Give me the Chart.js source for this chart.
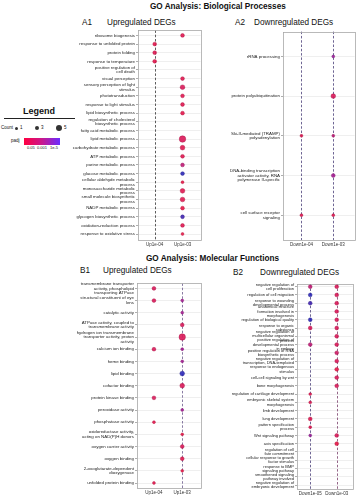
<!DOCTYPE html>
<html><head><meta charset="utf-8">
<script src="https://cdn.jsdelivr.net/npm/chart.js@4.4.1/dist/chart.umd.min.js"></script>
<style>
html,body{margin:0;padding:0;background:#fff;}
body{width:360px;height:500px;position:relative;overflow:hidden;font-family:"Liberation Sans",Arial,sans-serif;color:#111;}
.t{position:absolute;white-space:nowrap;line-height:10px;}
canvas{position:absolute;}
.dot{position:absolute;border-radius:50%;background:#333;}
</style></head><body>
<div class="t" style="left:150px;top:2px;font-size:8.2px;font-weight:bold;">GO Analysis: Biological Processes</div>
<div class="t" style="left:82px;top:18px;font-size:8.2px;">A1</div>
<div class="t" style="left:107px;top:18px;font-size:8.2px;">Upregulated DEGs</div>
<div class="t" style="left:235px;top:18px;font-size:8.2px;">A2</div>
<div class="t" style="left:254px;top:18px;font-size:8.2px;">Downregulated DEGs</div>
<div class="t" style="left:146px;top:254px;font-size:8.2px;font-weight:bold;">GO Analysis: Molecular Functions</div>
<div class="t" style="left:80px;top:266px;font-size:8.2px;">B1</div>
<div class="t" style="left:103px;top:266px;font-size:8.2px;">Upregulated DEGs</div>
<div class="t" style="left:233px;top:268px;font-size:8.2px;">B2</div>
<div class="t" style="left:260px;top:268px;font-size:8.2px;">Downregulated DEGs</div>

<!-- legend -->
<div class="t" style="left:23px;top:106px;font-size:9px;font-weight:bold;">Legend</div>
<div style="position:absolute;left:4px;top:118px;width:71px;border-top:1px solid #222;"></div>
<div class="t" style="left:1px;top:123px;font-size:4.5px;">Count</div>
<div class="dot" style="left:14.5px;top:126.5px;width:3px;height:3px;"></div>
<div class="t" style="left:20px;top:123px;font-size:4.5px;">1</div>
<div class="dot" style="left:34.6px;top:125.6px;width:4.8px;height:4.8px;"></div>
<div class="t" style="left:41px;top:123px;font-size:4.5px;">3</div>
<div class="dot" style="left:55.7px;top:124.7px;width:6.6px;height:6.6px;"></div>
<div class="t" style="left:64px;top:123px;font-size:4.5px;">5</div>
<div class="t" style="left:11px;top:136px;font-size:4.5px;">padj</div>
<div style="position:absolute;left:24px;top:137.5px;width:36px;height:7px;background:linear-gradient(to right,#ff0040,#c8188e,#6a2cff);"></div>
<div class="t" style="left:27px;top:143px;font-size:4px;">0.05</div>
<div class="t" style="left:37px;top:143px;font-size:4px;">0.001</div>
<div class="t" style="left:50px;top:143px;font-size:4px;">1e-5</div>

<canvas id="cA1" width="145" height="226" style="left:60px;top:26px;"></canvas>
<canvas id="cA2" width="154" height="226" style="left:205px;top:26px;"></canvas>
<canvas id="cB1" width="145" height="221" style="left:60px;top:279px;"></canvas>
<canvas id="cB2" width="152" height="221" style="left:205px;top:279px;"></canvas>

<script>
// ---------------- data ----------------
const A1_terms = ["ribosome biogenesis","response to unfolded protein","protein folding","response to temperature",
 "positive regulation of\ncell death","visual perception","sensory perception of light\nstimulus","phototransduction",
 "response to light stimulus","lipid biosynthetic process","regulation of cholesterol\nbiosynthetic process",
 "fatty acid metabolic process","lipid metabolic process","carbohydrate metabolic process","ATP metabolic process",
 "purine metabolic process","glucose metabolic process","cellular aldehyde metabolic\nprocess",
 "monosaccharide metabolic\nprocess","small molecule biosynthetic\nprocess","NADP metabolic process",
 "glycogen biosynthetic process","oxidation-reduction process","response to oxidative stress"];
const A1_cols = ["Up1e-04","Up1e-03"];
const A1_countL = [null,2,2,2,null,null,null,null,null,null,null,null,null,null,null,null,null,null,null,null,null,null,null,null];
const A1_padjL  = [null,0.04,0.03,0.04,null,null,null,null,null,null,null,null,null,null,null,null,null,null,null,null,null,null,null,null];
const A1_countR = [2,null,null,null,null,2,3,2,2,2,null,null,5,3,2,2,2,1,3,3,2,2,2,1];
const A1_padjR  = [0.03,null,null,null,null,0.03,0.02,0.03,0.03,0.04,null,null,0.02,0.03,0.03,0.004,1e-5,0.05,0.03,0.03,0.05,2e-5,0.03,0.05];

const A2_terms = ["rRNA processing","protein polyubiquitination","Ski-II-mediated (TRAMP)\npolyadenylation",
 "DNA-binding transcription\nactivator activity, RNA\npolymerase II-specific","cell surface receptor\nsignaling"];
const A2_cols = ["Down1e-04","Down1e-03"];
const A2_countL = [null,null,1,null,1];
const A2_padjL  = [null,null,0.03,null,0.03];
const A2_countR = [1,3,1,2,1];
const A2_padjR  = [0.0005,0.02,0.004,0.0008,0.03];

const B1_terms = ["transmembrane transporter\nactivity, phospholipid\ntransporting ATPase",
 "structural constituent of eye\nlens","catalytic activity","ATPase activity, coupled to\ntransmembrane activity",
 "hydrogen ion transmembrane\ntransporter activity, proton\nactivity","calcium ion binding","heme binding",
 "lipid binding","cofactor binding","protein kinase binding","peroxidase activity","phosphatase activity",
 "oxidoreductase activity,\nacting on NAD(P)H donors","oxygen carrier activity","oxygen binding",
 "2-oxoglutarate-dependent\ndioxygenase","unfolded protein binding"];
const B1_cols = ["Up1e-04","Up1e-03"];
const B1_countL = [2,2,null,null,null,2,null,null,null,2,null,1,null,null,null,null,1];
const B1_padjL  = [0.02,0.02,null,null,null,0.02,null,null,null,0.02,null,0.04,null,null,null,null,0.04];
const B1_countR = [null,1,1,2,5,1,1,3,3,null,1,null,1,2,2,1,null];
const B1_padjR  = [null,0.0008,0.0008,0.02,0.02,0.0008,0.0008,1e-5,0.02,null,0.0008,null,0.05,0.02,0.03,0.05,null];

const B2_terms = ["negative regulation of\ncell proliferation","regulation of cell migration",
 "response to wounding\ndevelopmental process","anatomical structure\nformation involved in\nmorphogenesis",
 "regulation of biological quality","response to organic\nsubstance",
 "negative regulation of\nmulticellular organismal\nprocess","positive regulation of\ndevelopmental process\nin embryo",
 "positive regulation of RNA\nbiosynthetic process","negative regulation of\ntranscription, DNA-templated",
 "response to endogenous\nstimulus","cell-cell signaling by wnt","bone morphogenesis",
 "regulation of cartilage development","embryonic skeletal system\nmorphogenesis","limb development",
 "lung development","pattern specification\nprocess","Wnt signaling pathway","axis specification",
 "regulation of cell\nfate commitment","cellular response to growth\nfactor stimulus",
 "response to BMP\nsignaling pathway","smoothened signaling\npathway involved","negative regulation of\nembryonic development"];
const B2_cols = ["Down1e-05","Down1e-03"];
const B2_countL = [2,2,2,null,2,2,null,2,null,null,null,null,null,1,1,null,2,1,1,null,null,null,null,null,null];
const B2_padjL  = [0.005,1e-5,2e-5,null,1e-5,0.02,null,0.004,null,null,null,null,null,0.03,0.03,null,0.03,0.03,0.0005,null,null,null,null,null,null];
const B2_countR = [2,2,2,2,2,2,2,2,2,2,2,2,2,null,null,null,null,null,2,2,null,null,null,null,null];
const B2_padjR  = [0.02,0.02,0.02,0.02,0.02,0.02,0.02,0.02,0.01,0.02,0.05,0.02,0.02,null,null,null,null,null,0.02,0.05,null,null,null,null,null];

// ---------------- helpers ----------------
const F = "'Liberation Sans', Arial, sans-serif";
function rad(c){ return 1 + 0.45*c; }
function colorFor(p, dark){
  let t = (Math.log10(0.05) - Math.log10(p)) / (Math.log10(0.05) - Math.log10(1e-5));
  t = Math.max(0, Math.min(1, t));
  const s = [[232,22,72],[165,30,150],[45,40,185]];
  let a, b, u;
  if (t < 0.5){ a=s[0]; b=s[1]; u=t/0.5; } else { a=s[1]; b=s[2]; u=(t-0.5)/0.5; }
  const k = dark ? 0.75 : 1;
  const c = a.map((v,i)=>Math.round((v+(b[i]-v)*u)*k));
  return `rgba(${c[0]},${c[1]},${c[2]},${dark?1:0.9})`;
}
const frame = {
  id:'frame',
  beforeDatasetsDraw(chart, args, opts){
    const {ctx, chartArea:a, scales:{x}} = chart;
    ctx.save();
    ctx.lineWidth = 0.8;
    ctx.setLineDash([2.5,1.8]);
    (opts.dash||[]).forEach((c,i)=>{
      if(!c) return;
      const px = Math.round(x.getPixelForValue(i))+0.5;
      ctx.strokeStyle = c;
      ctx.beginPath(); ctx.moveTo(px,a.top); ctx.lineTo(px,a.bottom); ctx.stroke();
    });
    ctx.setLineDash([]);
    ctx.strokeStyle = '#a8a8a8'; ctx.lineWidth = 0.8;
    ctx.strokeRect(Math.round(a.left)+0.5, Math.round(a.top)+0.5, Math.round(a.right-a.left), Math.round(a.bottom-a.top));
    ctx.restore();
  }
};
function makePanel(id, terms, cols, cL, pL, cR, pR, geo, dash){
  const pts = [];
  terms.forEach((t,i)=>{
    if (cL[i]!=null) pts.push({x:0, y:i, r:rad(cL[i]), p:pL[i]});
    if (cR[i]!=null) pts.push({x:1, y:i, r:rad(cR[i]), p:pR[i]});
  });
  new Chart(document.getElementById(id), {
    type:'bubble',
    data:{datasets:[{data:pts,
      backgroundColor:c=>colorFor(c.raw.p,false),
      borderColor:c=>colorFor(c.raw.p,true),
      borderWidth:0.4}]},
    options:{
      responsive:false, animation:false, events:[],
      layout:{padding:{top:geo.pt, right:geo.pr, left:0, bottom:0}},
      plugins:{legend:{display:false}, tooltip:{enabled:false}, frame:{dash:dash}},
      scales:{
        x:{type:'linear', bounds:'data', min:geo.xmin, max:geo.xmax,
           afterBuildTicks:s=>{ s.ticks = cols.map((_,i)=>({value:i})); },
           afterFit:s=>{ s.height = geo.xh; },
           grid:{display:false, drawTicks:true, tickLength:2},
           border:{display:false},
           ticks:{callback:v=>cols[v], font:{size:4.5, family:F}, color:'#333', padding:0, maxRotation:0, minRotation:0, autoSkip:false}},
        y:{type:'linear', bounds:'data', reverse:true, min:geo.ymin, max:geo.ymax,
           afterBuildTicks:s=>{ s.ticks = terms.map((_,i)=>({value:i})); },
           afterFit:s=>{ s.width = geo.yw; },
           grid:{color:'#e4e4e4', lineWidth:0.6, drawTicks:true, tickLength:2, tickColor:'#777'},
           border:{display:false},
           ticks:{callback:v=>terms[v].split('\n'), font:{size:geo.fs, family:F, lineHeight:1.05}, color:'#222', padding:1, autoSkip:false}}
      }
    },
    plugins:[frame]
  });
}

makePanel('cA1', A1_terms, A1_cols, A1_countL, A1_padjL, A1_countR, A1_padjR,
  {pt:4, pr:3, xh:12, yw:78, xmin:-0.6, xmax:1.65, ymin:-0.58, ymax:23.69, fs:4.4}, ['#333', null]);
makePanel('cA2', A2_terms, A2_cols, A2_countL, A2_padjL, A2_countR, A2_padjR,
  {pt:4, pr:2, xh:12, yw:78, xmin:-0.58, xmax:1.67, ymin:-0.625, ymax:4.625, fs:4.4}, ['#4a3f78', '#4a3f78']);
makePanel('cB1', B1_terms, B1_cols, B1_countL, B1_padjL, B1_countR, B1_padjR,
  {pt:4, pr:3, xh:12, yw:77, xmin:-0.6, xmax:1.65, ymin:-0.41, ymax:16.41, fs:4.4}, [null, '#6b5b8b']);
makePanel('cB2', B2_terms, B2_cols, B2_countL, B2_padjL, B2_countR, B2_padjR,
  {pt:4, pr:2, xh:11, yw:92, xmin:-0.5, xmax:1.6, ymin:-0.3, ymax:24.48, fs:4.0}, ['#4a3f78', '#7a3f6b']);
</script>
</body></html>
